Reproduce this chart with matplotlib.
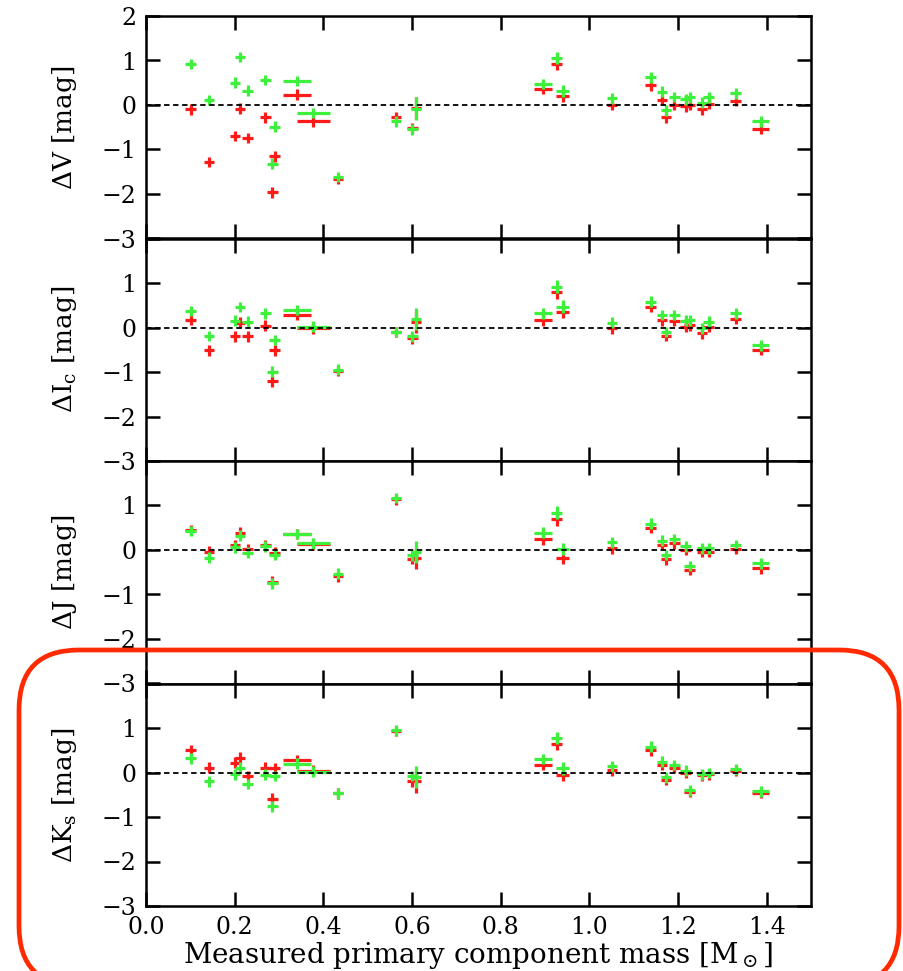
import numpy as np
import matplotlib
matplotlib.use('Agg')
from matplotlib import pyplot as plt
from matplotlib.patches import FancyBboxPatch

plt.rcParams['font.family'] = ['DejaVu Serif']
plt.rcParams['mathtext.fontset'] = 'dejavuserif'

# measured primary masses [Msun]
mass = [0.101, 0.142, 0.201, 0.212, 0.229, 0.269, 0.285, 0.290, 0.341, 0.377,
        0.433, 0.564, 0.601, 0.609, 0.896, 0.926, 0.940, 1.051, 1.138, 1.164,
        1.173, 1.192, 1.217, 1.226, 1.254, 1.269, 1.330, 1.387]
mass_err = [0.012, 0.012, 0.012, 0.012, 0.012, 0.012, 0.012, 0.012, 0.032, 0.037,
            0.012, 0.012, 0.012, 0.012, 0.020, 0.012, 0.015, 0.012, 0.012, 0.012,
            0.012, 0.012, 0.012, 0.012, 0.012, 0.012, 0.012, 0.019]
mag_err = [0.12, 0.12, 0.12, 0.12, 0.12, 0.12, 0.12, 0.12, 0.12, 0.12,
           0.12, 0.12, 0.12, 0.25, 0.12, 0.14, 0.14, 0.12, 0.12, 0.12,
           0.12, 0.12, 0.12, 0.12, 0.12, 0.12, 0.12, 0.12]

# residuals, green and red model sets
dV_green = [0.92, 0.11, 0.50, 1.08, 0.32, 0.56, -1.32, -0.49, 0.54, -0.18,
            -1.62, -0.37, -0.55, -0.08, 0.47, 1.06, 0.32, 0.15, 0.62, 0.30,
            -0.12, 0.18, 0.13, 0.17, 0.05, 0.17, 0.26, -0.37]
dV_red = [-0.10, -1.28, -0.70, -0.08, -0.74, -0.28, -1.96, -1.15, 0.23, -0.37,
          -1.66, -0.28, -0.52, -0.06, 0.36, 0.93, 0.21, 0.00, 0.44, 0.11,
          -0.28, 0.00, -0.03, 0.00, -0.10, 0.02, 0.09, -0.53]
dI_green = [0.37, -0.19, 0.15, 0.46, 0.13, 0.32, -0.99, -0.28, 0.39, 0.02,
            -0.95, -0.10, -0.20, 0.19, 0.32, 0.92, 0.47, 0.11, 0.58, 0.28,
            -0.10, 0.28, 0.15, 0.16, -0.02, 0.13, 0.32, -0.40]
dI_red = [0.17, -0.51, -0.20, 0.11, -0.20, 0.04, -1.21, -0.51, 0.29, -0.02,
          -0.98, -0.10, -0.24, 0.13, 0.16, 0.79, 0.35, -0.02, 0.46, 0.16,
          -0.19, 0.15, 0.02, 0.05, -0.13, 0.02, 0.19, -0.50]
dJ_green = [0.43, -0.17, 0.06, 0.32, -0.06, 0.08, -0.75, -0.11, 0.36, 0.15,
            -0.53, 1.17, -0.12, -0.05, 0.39, 0.84, 0.02, 0.17, 0.59, 0.21,
            -0.11, 0.25, 0.08, -0.36, 0.04, 0.04, 0.11, -0.30]
dJ_red = [0.45, -0.04, 0.11, 0.39, 0.02, 0.11, -0.71, -0.06, 0.36, 0.13,
          -0.59, 1.14, -0.20, -0.18, 0.24, 0.69, -0.17, 0.04, 0.50, 0.11,
          -0.21, 0.15, 0.00, -0.44, -0.04, -0.04, 0.02, -0.41]
dK_green = [0.32, -0.20, -0.04, 0.11, -0.26, -0.05, -0.76, -0.08, 0.20, 0.02,
            -0.47, 0.95, -0.08, -0.10, 0.30, 0.77, 0.09, 0.14, 0.58, 0.24,
            -0.11, 0.17, 0.04, -0.40, -0.04, -0.01, 0.07, -0.42]
dK_red = [0.50, 0.11, 0.22, 0.33, -0.08, 0.11, -0.59, 0.09, 0.28, 0.04,
          -0.47, 0.93, -0.20, -0.20, 0.17, 0.65, -0.06, 0.05, 0.50, 0.17,
          -0.17, 0.11, 0.00, -0.44, -0.06, -0.04, 0.04, -0.46]

ylabels = [r'$\Delta$V [mag]', r'$\Delta$I$_{\rm c}$ [mag]',
           r'$\Delta$J [mag]', r'$\Delta$K$_{\rm s}$ [mag]']
panels = [(dV_green, dV_red), (dI_green, dI_red),
          (dJ_green, dJ_red), (dK_green, dK_red)]
xticks = [0.0, 0.2, 0.4, 0.6, 0.8, 1.0, 1.2, 1.4]

green = '#3cf03c'
red = '#ff1a1a'

fig = plt.figure(figsize=(9.04, 9.71), dpi=100)

left, width = 146 / 904, 665 / 904
top = 1 - 16 / 971
ph = 222.5 / 971

for i, (g, r) in enumerate(panels):
    ax = fig.add_axes([left, top - (i + 1) * ph, width, ph])
    ax.errorbar(mass, r, xerr=mass_err, yerr=mag_err, fmt='none',
                ecolor=red, elinewidth=2.3, capsize=0)
    ax.errorbar(mass, g, xerr=mass_err, yerr=mag_err, fmt='none',
                ecolor=green, elinewidth=2.3, capsize=0)
    ax.axhline(0, color='black', lw=1.3, ls=(0, (3, 2)))
    ax.set_xlim(0, 1.5)
    ax.set_ylim(-3, 2)
    ax.set_xticks(xticks)
    ax.set_yticks([-3, -2, -1, 0, 1, 2])
    if i == 0:
        ax.set_yticklabels(['\u22123', '\u22122', '\u22121', '0', '1', '2'])
    else:
        ax.set_yticklabels(['\u22123', '\u22122', '\u22121', '0', '1', ''])
    ax.tick_params(direction='in', length=10, width=1.8, top=True, right=True,
                   labelsize=17, pad=7)
    if i < 3:
        ax.tick_params(labelbottom=False)
    else:
        ax.set_xticklabels(['%.1f' % t for t in xticks])
        ax.set_xlabel(r'Measured primary component mass [M$_\odot$]',
                      fontsize=20, labelpad=1)
    for s in ax.spines.values():
        s.set_linewidth(1.8)
    ax.set_ylabel(ylabels[i], fontsize=19)
    ax.yaxis.set_label_coords(-0.1, 0.5)

# red rounded frame around the bottom panel
box = FancyBboxPatch((0.19, -0.15), 8.80, 3.36,
                     boxstyle='round,pad=0,rounding_size=0.6',
                     transform=fig.dpi_scale_trans, fill=False,
                     edgecolor='#ff2a00', linewidth=3.4, clip_on=False)
fig.patches.append(box)

fig.savefig('out.png', dpi=100)
